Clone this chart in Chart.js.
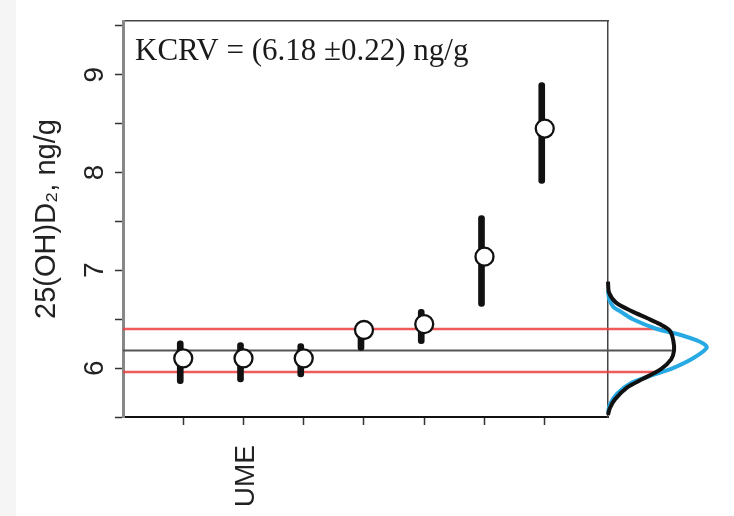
<!DOCTYPE html>
<html><head><meta charset="utf-8">
<script src="https://cdn.jsdelivr.net/npm/chart.js@4"></script>
<style>
html,body{margin:0;padding:0;width:734px;height:516px;overflow:hidden;
background:linear-gradient(to right,#f4f5f4 0,#f4f5f4 16px,#ffffff 16px);}
canvas{display:block;}
</style></head><body>
<canvas id="c" width="734" height="516"></canvas>
<script>
// ---- data ----
const categories = ['', 'UME', '', '', '', '', ''];
const means = [6.10, 6.10, 6.10, 6.39, 6.45, 7.14, 8.45];
const lows  = [5.84, 5.86, 5.91, 6.18, 6.25, 6.63, 7.89];
const highs = [6.28, 6.26, 6.25, 6.46, 6.60, 7.56, 8.92];
const kcrv = 6.18;
const kcrvU = 0.22;
const yTickLabels = ['6', '7', '8', '9'];
// density curves (value, density)
const blackY = [6.885, 6.77, 6.67, 6.58, 6.51, 6.45, 6.38, 6.28, 6.18, 6.09, 5.99, 5.89, 5.80, 5.68, 5.59, 5.52];
const blackD = [0.00, 0.03, 0.22, 0.66, 1.08, 1.42, 1.70, 1.79, 1.81, 1.73, 1.45, 0.96, 0.52, 0.19, 0.05, 0.00];
const blueY = [6.80, 6.71, 6.63, 6.57, 6.50, 6.40, 6.35, 6.27, 6.21, 6.10, 6.00, 5.92, 5.84, 5.74, 5.63, 5.54];
const blueD = [0.00, 0.03, 0.14, 0.38, 0.68, 1.34, 1.89, 2.52, 2.71, 2.33, 1.78, 1.15, 0.60, 0.25, 0.05, 0.00];
// where the reference lines meet the black curve (upper, KCRV, lower)
const refEnds = [1.51, 1.75, 1.42];

const XD_MIN = -13.29;

const refVals = [kcrv + kcrvU, kcrv, kcrv - kcrvU];
const refColors = ['rgba(236,62,62,0.85)', '#555555', 'rgba(236,62,62,0.85)'];

const kcrvLabel = {
  id: 'kcrvLabel',
  afterDraw(chart) {
    const {ctx, chartArea} = chart;
    ctx.save();
    ctx.font = '31px "Liberation Serif"';
    ctx.fillStyle = '#1a1a1a';
    ctx.textBaseline = 'alphabetic';
    ctx.fillText('KCRV = (' + kcrv.toFixed(2) + ' \u00b1' + kcrvU.toFixed(2) + ') ng/g', chartArea.left + 12, chartArea.top + 39);
    ctx.restore();
  }
};

const noPad = (s) => { s.paddingTop = 0; s.paddingBottom = 0; s.paddingLeft = 0; s.paddingRight = 0; };

const datasets = [
  {
    type: 'scatter', label: 'results', xAxisID: 'x', yAxisID: 'y', order: 0,
    data: means.map((m, i) => ({x: i + 1, y: m})),
    pointRadius: 9, pointHoverRadius: 9,
    backgroundColor: '#ffffff', borderColor: '#111111', borderWidth: 2.3
  },
  {
    type: 'bar', label: 'uncertainty', xAxisID: 'x', yAxisID: 'y', order: 1,
    data: means.map((m, i) => ({x: i + 1, y: [lows[i], highs[i]]})),
    backgroundColor: '#111111', barThickness: 6, borderRadius: 3, borderSkipped: false
  },
  {
    type: 'line', label: 'pdf', xAxisID: 'xd', yAxisID: 'y', order: 2, clip: false,
    data: blackY.map((v, i) => ({x: blackD[i], y: v})),
    borderColor: '#111111', borderWidth: 4, pointRadius: 0, tension: 0.3, fill: false
  },
  {
    type: 'line', label: 'kde', xAxisID: 'xd', yAxisID: 'y', order: 3, clip: false,
    data: blueY.map((v, i) => ({x: blueD[i], y: v})),
    borderColor: '#27a9e3', borderWidth: 4, pointRadius: 0, tension: 0.3, fill: false
  }
];
refVals.forEach((v, i) => {
  datasets.push({
    type: 'line', label: 'ref' + i, xAxisID: 'xd', yAxisID: 'y', order: 4 + i, clip: false,
    data: [{x: XD_MIN, y: v}, {x: refEnds[i], y: v}],
    borderColor: refColors[i], borderWidth: i === 1 ? 2 : 2.5, pointRadius: 0, tension: 0
  });
});

new Chart(document.getElementById('c'), {
  type: 'scatter',
  data: {datasets},
  plugins: [kcrvLabel],
  options: {
    responsive: false,
    animation: false,
    layout: {padding: {left: 0, right: 126, top: 21, bottom: 0}},
    plugins: {legend: {display: false}, tooltip: {enabled: false}},
    scales: {
      x: {
        type: 'linear', position: 'bottom', min: 0, max: 8.05, offset: false,
        afterBuildTicks: (s) => { s.ticks = categories.map((c, i) => ({value: i + 1})); },
        afterFit: (s) => { s.height = 99; noPad(s); },
        ticks: {
          autoSkip: false, minRotation: 90, maxRotation: 90, padding: 20, labelOffset: 3,
          font: {family: 'Liberation Sans', size: 28}, color: '#222222',
          callback: (v) => categories[v - 1] || ''
        },
        grid: {offset: false, drawOnChartArea: false, tickLength: 8, tickColor: '#333333', tickWidth: 1.5},
        border: {color: '#111111', width: 2}
      },
      xd: {type: 'linear', axis: 'x', position: 'bottom', min: XD_MIN, max: 0, display: false, offset: false},
      xTop: {
        type: 'linear', axis: 'x', position: 'top', min: 0, max: 1, display: true,
        afterFit: noPad,
        grid: {display: false, drawTicks: false}, ticks: {display: false},
        border: {color: '#444444', width: 1.5}
      },
      y: {
        type: 'linear', position: 'left', min: 5.5, max: 9.55,
        afterFit: (s) => { s.width = 123; noPad(s); },
        ticks: {
          stepSize: 0.5, includeBounds: false, minRotation: 90, maxRotation: 90,
          crossAlign: 'center', padding: 12,
          font: {family: 'Liberation Sans', size: 28}, color: '#222222',
          callback: (v) => yTickLabels.includes(String(v)) ? String(v) : ''
        },
        grid: {drawOnChartArea: false, tickLength: 8, tickColor: '#333333', tickWidth: 1.5},
        border: {color: '#888888', width: 3},
        title: {
          display: true, text: '25(OH)D\u2082, ng/g',
          font: {family: 'Liberation Sans', size: 29}, color: '#222222',
          padding: {top: 30, bottom: 0}
        }
      },
      yRight: {
        type: 'linear', axis: 'y', position: 'right', min: 0, max: 1, display: true,
        afterFit: noPad,
        grid: {display: false, drawTicks: false}, ticks: {display: false},
        border: {color: '#444444', width: 1.5}
      }
    }
  }
});
</script>
</body></html>
